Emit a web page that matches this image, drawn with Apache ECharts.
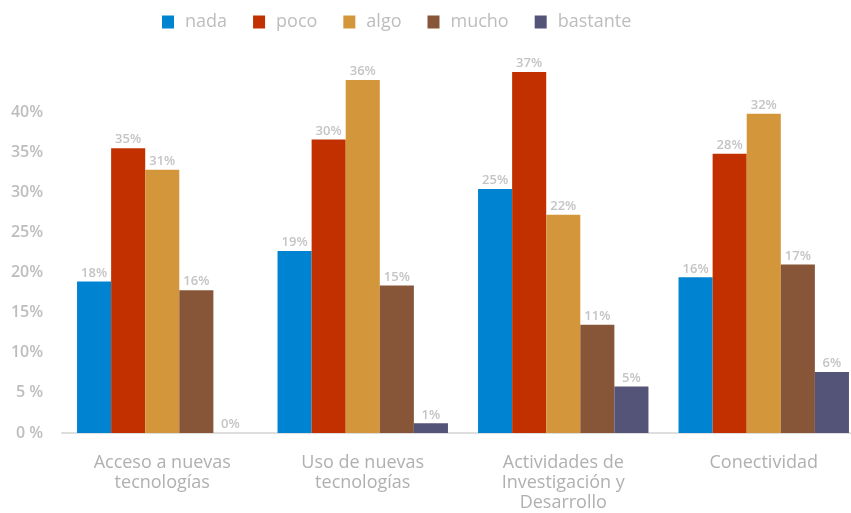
<!DOCTYPE html>
<html>
<head>
<meta charset="utf-8">
<script src="https://cdn.jsdelivr.net/npm/echarts@6/dist/echarts.min.js"></script>
<style>
html, body { margin: 0; padding: 0; background: #fff; overflow: hidden; }
#main { width: 864px; height: 513px; }
</style>
</head>
<body>
<div id="main"></div>
<script>
var categories = ['Acceso a nuevas\ntecnologías', 'Uso de nuevas\ntecnologías', 'Actividades de\nInvestigación y\nDesarrollo', 'Conectividad'];
var seriesNames = ['nada', 'poco', 'algo', 'mucho', 'bastante'];
var colors = ['#0083d1', '#c23000', '#d4963a', '#875638', '#545478'];

// bar heights as drawn against the axis
var nadaBars = [18.9, 22.7, 30.4, 19.4];
var pocoBars = [35.5, 36.6, 45.0, 34.8];
var algoBars = [32.8, 44.0, 27.2, 39.8];
var muchoBars = [17.8, 18.4, 13.5, 21.0];
var bastanteBars = [0, 1.2, 5.8, 7.6];

// labels printed above the bars
var nadaLabels = [18, 19, 25, 16];
var pocoLabels = [35, 30, 37, 28];
var algoLabels = [31, 36, 22, 32];
var muchoLabels = [16, 15, 11, 17];
var bastanteLabels = [0, 1, 5, 6];

var yTicks = [0, 5, 10, 15, 20, 25, 30, 35, 40];

var bars = [nadaBars, pocoBars, algoBars, muchoBars, bastanteBars];
var labels = [nadaLabels, pocoLabels, algoLabels, muchoLabels, bastanteLabels];

var chart = echarts.init(document.getElementById('main'));

var series = [];
for (var i = 0; i < seriesNames.length; i++) {
    (function(i){
        series.push({
            name: seriesNames[i],
            type: 'bar',
            data: bars[i],
            barGap: '0%',
            barCategoryGap: '15%',
            itemStyle: { color: colors[i] },
            label: {
                show: true,
                position: 'top',
                distance: 2,
                color: '#c4c4c4',
                fontFamily: 'Open Sans',
                fontWeight: 600,
                fontSize: 13,
                formatter: function(p){ return labels[i][p.dataIndex] + '%'; }
            }
        });
    })(i);
}

chart.setOption({
    animation: false,
    legend: {
        top: 8,
        left: 157,
        itemWidth: 12,
        itemHeight: 13,
        itemGap: 26,
        icon: 'rect',
        textStyle: { color: '#bdbdbd', fontFamily: 'Open Sans', fontSize: 18, padding: [0, 0, 0, 6] },
        data: seriesNames
    },
    grid: { left: 62, right: 0, top: 72, bottom: 78 },
    xAxis: {
        type: 'category',
        data: categories,
        axisLine: { lineStyle: { color: '#dedede', width: 2 } },
        axisTick: { show: false },
        axisLabel: {
            color: '#b0b0b0',
            fontFamily: 'Open Sans',
            fontSize: 18,
            lineHeight: 20,
            margin: 20
        }
    },
    yAxis: {
        type: 'value',
        min: 0,
        max: 45,
        interval: 5,
        splitLine: { show: false },
        axisLine: { show: false },
        axisTick: { show: false },
        axisLabel: {
            color: '#bdbdbd',
            fontFamily: 'Open Sans',
            fontWeight: 600,
            fontSize: 16,
            margin: 19,
            formatter: function(v){
                if (yTicks.indexOf(v) < 0) return '';
                return v < 10 ? v + ' %' : v + '%';
            }
        }
    },
    series: series
});
</script>
</body>
</html>
